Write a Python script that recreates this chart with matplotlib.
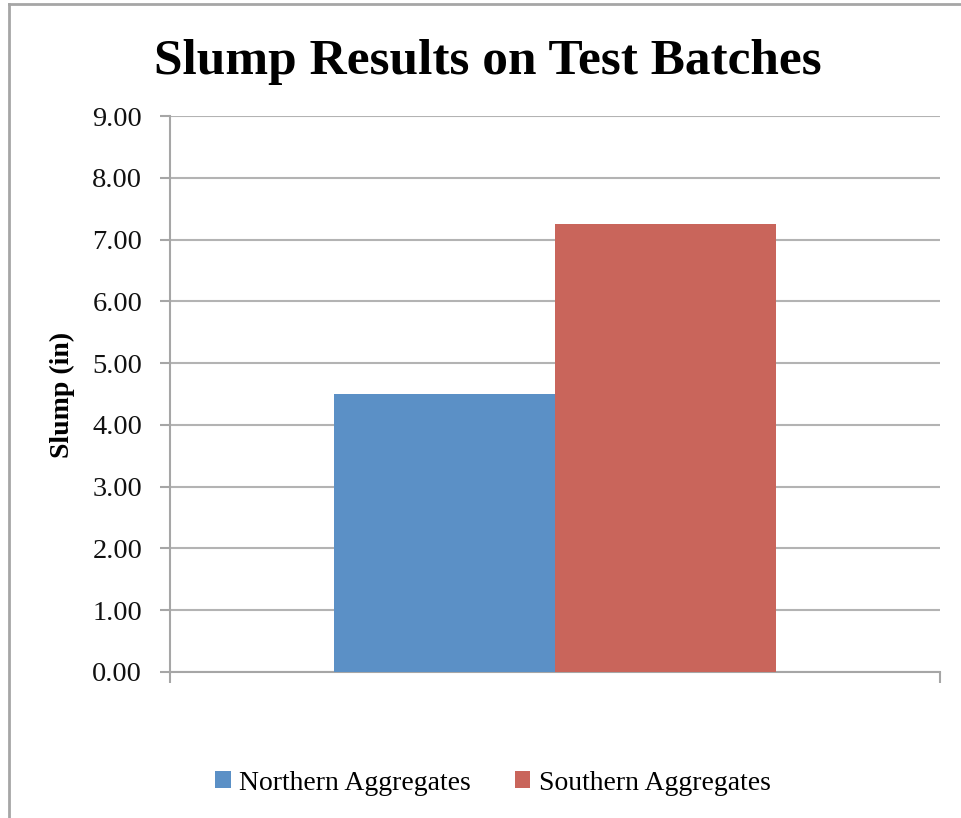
import matplotlib.pyplot as plt
from matplotlib.lines import Line2D
import numpy as np

# data
series = ['Northern Aggregates', 'Southern Aggregates']
slump = [4.50, 7.25]
colors = ['#5B90C6', '#C9655B']
yticks = [0, 1, 2, 3, 4, 5, 6, 7, 8, 9]

plt.rcParams['font.family'] = ['Liberation Serif', 'DejaVu Serif']

fig = plt.figure(figsize=(9.61, 8.18), dpi=100)
ax = fig.add_axes([0.1769, 0.1785, 0.978 - 0.1769, 0.858 - 0.1785])

width = 0.287
offsets = np.array([-0.5, 0.5]) * width
for i, (name, val) in enumerate(zip(series, slump)):
    ax.bar(offsets[i], val, width=width, color=colors[i], label=name, zorder=3)

ax.set_xlim(-0.5, 0.5)
ax.set_ylim(0, 9)
ax.set_yticks(yticks)
ax.set_yticklabels(['%.2f' % t for t in yticks], fontsize=20.5)
ax.set_xticks([-0.5, 0.5])
ax.set_xticklabels([])
ax.tick_params(axis='x', length=8, width=1.5, color='#A6A6A6', direction='out')
ax.tick_params(axis='y', length=7, width=1.5, color='#A6A6A6', direction='out', pad=13, labelcolor='#111111')

ax.grid(axis='y', color='#B3B3B3', linewidth=1.5, zorder=0)
for s in ['top', 'right']:
    ax.spines[s].set_visible(False)
for s in ['left', 'bottom']:
    ax.spines[s].set_color('#A6A6A6')
    ax.spines[s].set_linewidth(1.5)

ax.set_ylabel('Slump (in)', fontsize=20, fontweight='bold')
ax.yaxis.set_label_coords(75 / 961, 1 - 395 / 818, transform=fig.transFigure)

fig.text(0.508, 1 - 62 / 818, 'Slump Results on Test Batches', ha='center', va='center',
         fontsize=37, fontweight='bold')

ax.legend(loc='center', bbox_to_anchor=(493 / 961, 1 - 783 / 818), bbox_transform=fig.transFigure,
          ncol=2, frameon=False, fontsize=20, handlelength=0.55, handleheight=0.55,
          handletextpad=0.3, columnspacing=1.6)

# outer frame (top and left edges visible)
fig.add_artist(Line2D([9 / 961, 9 / 961], [0, 1 - 4 / 818], color='#A6A6A6', linewidth=2,
                      transform=fig.transFigure))
fig.add_artist(Line2D([9 / 961, 1], [1 - 4 / 818, 1 - 4 / 818], color='#A6A6A6', linewidth=2,
                      transform=fig.transFigure))

fig.savefig('out.png', dpi=100)
